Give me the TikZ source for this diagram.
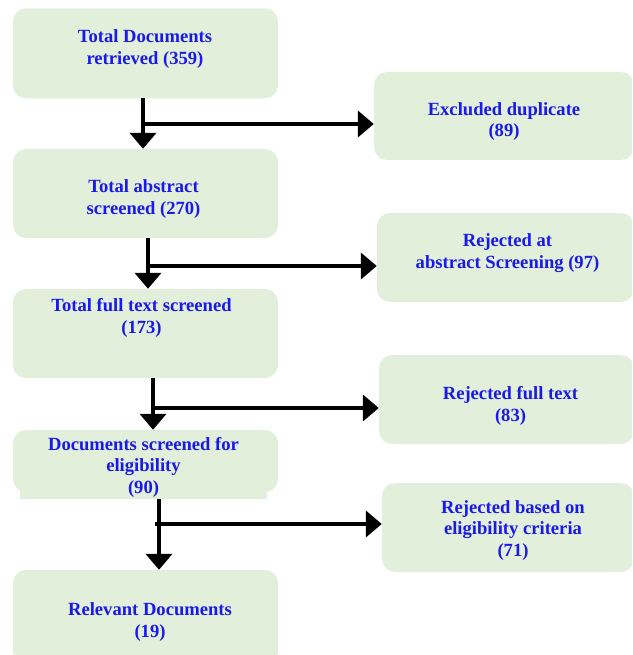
\documentclass[tikz,border=0pt]{standalone}
\usepackage{fontspec}
\setmainfont{Liberation Serif}
\usetikzlibrary{arrows.meta}
\definecolor{boxfill}{RGB}{226,239,218}
\definecolor{txtblue}{RGB}{25,25,235}
\begin{document}
\begin{tikzpicture}[x=1pt,y=-1pt,
  box/.style={fill=boxfill, rounded corners=13pt, inner sep=0pt, draw=none},
  plainbox/.style={fill=boxfill, inner sep=0pt, draw=none},
  txt/.style={text=txtblue, font=\fontsize{18.6}{21.5}\selectfont\bfseries, align=center, inner sep=0pt, anchor=base},
  arr/.style={line width=4pt, -{Triangle[width=26pt,length=16pt]}}]
\useasboundingbox (0,0) rectangle (632,655);
\clip (0,0) rectangle (632,655);
% left column
\node[box, minimum width=265pt, minimum height=90pt] (b1) at (145.5,53.3) {};
\node[box, minimum width=265pt, minimum height=89pt] (b2) at (145.5,193.5) {};
\node[box, minimum width=265pt, minimum height=89pt] (b3) at (145.5,333.5) {};
\node[plainbox, minimum width=247pt, minimum height=19pt] (b4tail) at (143.5,489.5) {};
\node[box, minimum width=265pt, minimum height=62pt] (b4) at (145.5,461) {};
\node[box, minimum width=265pt, minimum height=95pt] (b5) at (145.5,617.5) {};
% right column
\node[box, minimum width=260pt, minimum height=88pt] (r1) at (504,116) {};
\node[box, minimum width=257pt, minimum height=89pt] (r2) at (505.5,257.5) {};
\node[box, minimum width=255pt, minimum height=89pt] (r3) at (506.5,399.5) {};
\node[box, minimum width=252pt, minimum height=89pt] (r4) at (508,527.5) {};
% texts (base anchor = baseline of last line)
\node[txt] (t1) at (145,64.5) {Total Documents\\retrieved (359)};
\node[txt] (t2) at (143.5,214) {Total abstract\\screened (270)};
\node[txt] (t3) at (141.5,333) {Total full text screened\\(173)};
\node[txt] (t4) at (143.5,493) {Documents screened for\\eligibility\\(90)};
\node[txt] (t5) at (150,637) {Relevant Documents\\(19)};
\node[txt] (u1) at (504,137) {Excluded duplicate\\(89)};
\node[txt] (u2) at (507.5,268) {Rejected at\\abstract Screening (97)};
\node[txt] (u3) at (510.5,421) {Rejected full text\\(83)};
\node[txt] (u4) at (513,556) {Rejected based on\\eligibility criteria\\(71)};
% connectors
\coordinate (j1) at (143,124);
\coordinate (j2) at (148,266);
\coordinate (j3) at (153,408);
\coordinate (j4) at (159,524);
\coordinate (k4) at (155,524);
\draw[arr] (b1.south -| j1) -- (b2.north -| j1);
\draw[arr] (j1) -- (j1 -| r1.west);
\draw[arr] (b2.south -| j2) -- (b3.north -| j2);
\draw[arr] (j2) -- (j2 -| r2.west);
\draw[arr] (b3.south -| j3) -- (b4.north -| j3);
\draw[arr] (j3) -- (j3 -| r3.west);
\draw[arr] (b4tail.south -| j4) -- (b5.north -| j4);
\draw[arr] (k4) -- (k4 -| r4.west);
\end{tikzpicture}
\end{document}
